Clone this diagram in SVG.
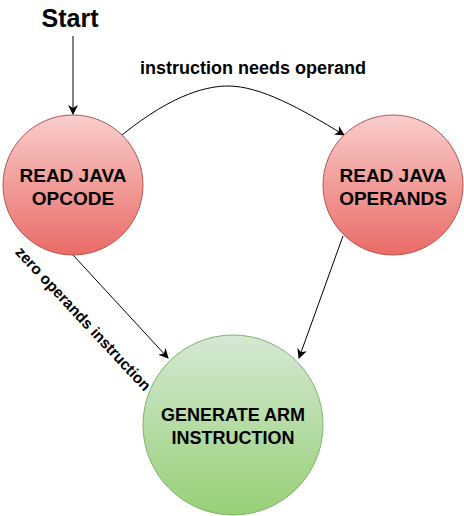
<svg xmlns="http://www.w3.org/2000/svg" width="464" height="516" viewBox="0 0 464 516">
<style>
text{font-family:"Liberation Sans",Arial,sans-serif;font-weight:bold;fill:#000;text-anchor:middle}
.node{font-size:19px}
.lbl{font-size:18px}
.edge{fill:none;stroke:#000;stroke-width:1}
</style>
<defs>
<linearGradient id="red" x1="0" y1="0" x2="0" y2="1"><stop offset="0" stop-color="#f8cecc"/><stop offset="1" stop-color="#ea6b66"/></linearGradient>
<linearGradient id="green" x1="0" y1="0" x2="0" y2="1"><stop offset="0" stop-color="#d5e8d4"/><stop offset="1" stop-color="#97d077"/></linearGradient>
<marker id="arr" viewBox="0 0 10 10" refX="9" refY="5" markerWidth="10" markerHeight="10" markerUnits="userSpaceOnUse" orient="auto"><path d="M0,0 L10,5 L0,10 L3,5 Z" fill="#000"/></marker>
</defs>
<g id="start"><text x="70" y="27" style="font-size:25px">Start</text></g>
<g id="connectors">
<path class="edge" d="M73,36 L73,114" marker-end="url(#arr)"/>
<path class="edge" d="M122,135 C175,92 210,86 228,86 C260,86 300,108 344,135" marker-end="url(#arr)"/>
<path class="edge" d="M73,255 L168,358" marker-end="url(#arr)"/>
<path class="edge" d="M343,236 L299,358" marker-end="url(#arr)"/>
<text class="lbl" x="253" y="74">instruction needs operand</text>
<text x="0" y="0" transform="translate(83,319) rotate(47) translate(0,5)" style="font-size:15.5px">zero operands instruction</text>
</g>
<g id="read-opcode">
<circle cx="73" cy="185" r="70" fill="url(#red)" stroke="#b85450"/>
<text class="node" x="73" y="182">READ JAVA</text>
<text class="node" x="73" y="205">OPCODE</text>
</g>
<g id="read-operands">
<circle cx="393" cy="185" r="70" fill="url(#red)" stroke="#b85450"/>
<text class="node" x="393" y="182">READ JAVA</text>
<text class="node" x="393" y="205">OPERANDS</text>
</g>
<g id="generate-arm">
<circle cx="233" cy="425" r="90" fill="url(#green)" stroke="#82b366"/>
<text class="node" x="233" y="421" style="font-size:18px">GENERATE ARM</text>
<text class="node" x="233" y="444" style="font-size:18px">INSTRUCTION</text>
</g>
</svg>
